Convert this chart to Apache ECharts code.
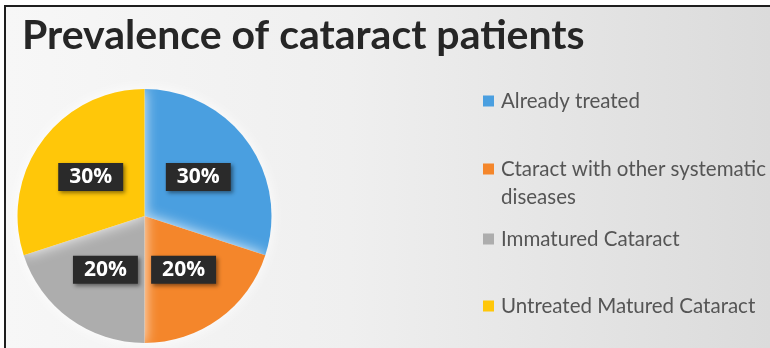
<!DOCTYPE html>
<html>
<head>
<meta charset="utf-8">
<script src="https://cdn.jsdelivr.net/npm/echarts@6/dist/echarts.min.js"></script>
<style>
  html, body { margin: 0; padding: 0; background: #ffffff; }
  #wrap { position: relative; width: 770px; height: 348px; background: #ffffff; overflow: hidden; }
  #panel {
    position: absolute; left: 4px; top: 5px; right: 0; bottom: 0;
    border-left: 2px solid #1e1e1e; border-top: 2px solid #1e1e1e;
    background: linear-gradient(90deg, #f7f7f7 0%, #efefef 45%, #e4e4e4 75%, #dbdbdb 100%);
  }
  #chart { position: absolute; left: 0; top: 0; width: 770px; height: 348px; }
</style>
</head>
<body>
<div id="wrap">
  <div id="panel"></div>
  <div id="chart"></div>
</div>
<script>
// Chart content
const chartTitle = 'Prevalence of cataract patients';
const categories = [
  'Already treated',
  'Ctaract with other systematic diseases',
  'Immatured Cataract',
  'Untreated Matured Cataract'
];
const shares = [30, 20, 20, 30];
const sliceColors = ['#4a9fe0', '#f4862b', '#adadad', '#ffc709'];

// Vertical position (center of first text line) of each legend entry
const legendRows = [101, 169, 239, 306];
const legendLineHeight = 28;

const chart = echarts.init(document.getElementById('chart'), null, { renderer: 'canvas' });

// One legend block per entry so each can sit on its own row;
// a wrapped entry gets a leading blank line so its marker lines up with the first line.
const legends = categories.map((name, i) => {
  const wrapped = name.length > 30;
  const lines = wrapped ? 3 : 1;
  return {
    data: [name],
    orient: 'vertical',
    left: 483,
    top: legendRows[i] - (lines * legendLineHeight) / 2,
    padding: 0,
    icon: 'rect',
    itemWidth: 11,
    itemHeight: 11,
    itemGap: 0,
    selectedMode: false,
    formatter: (n) => wrapped ? '\n' + n.replace(' diseases', '\ndiseases') : n,
    textStyle: {
      fontFamily: 'Lato',
      fontSize: 20.5,
      color: '#555555',
      lineHeight: legendLineHeight,
      padding: [0, 0, 0, 2]
    }
  };
});

chart.setOption({
  backgroundColor: 'transparent',
  animation: false,
  title: {
    text: chartTitle,
    left: 17,
    top: 10,
    textStyle: {
      fontFamily: 'Lato',
      fontWeight: 'bold',
      fontSize: 41,
      color: '#262626'
    }
  },
  legend: legends,
  series: [{
    type: 'pie',
    center: [144.5, 216],
    radius: [0, 127],
    startAngle: 90,
    clockwise: true,
    silent: true,
    itemStyle: {
      borderWidth: 0,
      shadowBlur: 14,
      shadowColor: 'rgba(255,255,255,0.9)'
    },
    label: {
      show: true,
      position: 'inside',
      formatter: '{d}%',
      fontFamily: 'Open Sans',
      fontWeight: 'bold',
      fontSize: 21,
      lineHeight: 22,
      color: '#ffffff',
      backgroundColor: '#2a2a2a',
      padding: [3, 11, 3, 11],
      shadowBlur: 4,
      shadowOffsetX: 2,
      shadowOffsetY: 2,
      shadowColor: 'rgba(0,0,0,0.45)'
    },
    labelLine: { show: false },
    data: categories.map((name, i) => ({
      name: name,
      value: shares[i],
      itemStyle: { color: sliceColors[i] }
    }))
  }]
});
</script>
</body>
</html>
